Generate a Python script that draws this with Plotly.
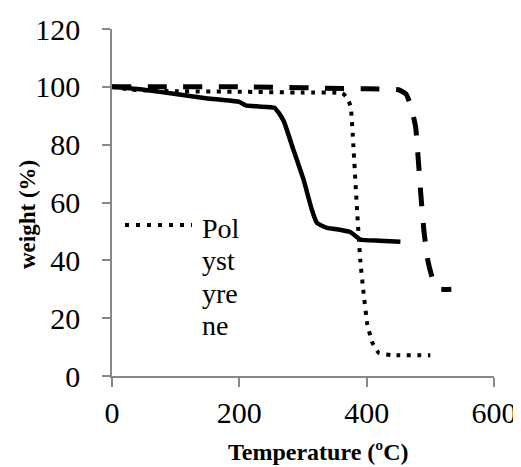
import plotly.graph_objects as go

# Solid curve
solid_t = [0, 50, 100, 150, 200, 210, 230, 255, 262, 270, 285, 301, 314, 322, 338, 360, 374, 382, 390, 420, 453]
solid_w = [100, 99, 97.5, 96, 94.8, 93.6, 93.2, 92.8, 91, 88, 78.2, 67.8, 57.4, 52.9, 51.2, 50.5, 49.8, 48.5, 47.2, 46.8, 46.4]

# Polystyrene (dotted)
ps_t = [0, 30, 100, 200, 300, 362, 370, 375, 379, 385, 390, 395, 401, 409, 419, 440, 500]
ps_w = [100, 99, 98.5, 98.3, 98, 97.8, 96, 93, 80, 57, 40, 29, 18, 11.5, 8, 7.2, 7.2]

# Dashed curve
dash_t = [0, 200, 400, 450, 462, 470, 477, 481, 485, 490, 496, 503, 510, 516, 533]
dash_w = [100, 100, 99.3, 99, 97.5, 93, 86, 75, 63, 50, 40, 34, 31, 30, 30]

legend_lines = ["Pol", "yst", "yre", "ne"]

FONT = "Liberation Serif"
AX = "#878787"

fig = go.Figure()
fig.add_trace(go.Scatter(x=solid_t, y=solid_w, mode="lines",
                         line=dict(color="black", width=4.5, shape="spline", smoothing=0.4),
                         showlegend=False))
fig.add_trace(go.Scatter(x=ps_t, y=ps_w, mode="lines", name="Polystyrene",
                         line=dict(color="black", width=4, dash="4px,6.5px", shape="spline", smoothing=0.4),
                         showlegend=False))
fig.add_trace(go.Scatter(x=dash_t, y=dash_w, mode="lines",
                         line=dict(color="black", width=5, dash="19px,16.5px", shape="spline", smoothing=0.4),
                         showlegend=False))

# manual legend (wrapped text as in the reference)
fig.add_shape(type="line", xref="paper", yref="paper",
              x0=(125 - 112) / 382, x1=(192 - 112) / 382,
              y0=(376 - 225) / 347, y1=(376 - 225) / 347,
              line=dict(color="black", width=4, dash="4px,7px"))
for i, s in enumerate(legend_lines):
    fig.add_annotation(text=s, xref="paper", yref="paper",
                       x=(200 - 112) / 382, y=(376 - (228 + 32.5 * i)) / 347,
                       xanchor="left", yanchor="middle", showarrow=False,
                       font=dict(family=FONT, size=28, color="black"))

# axis titles
fig.add_annotation(text="<b>Temperature (ºC)</b>", xref="paper", yref="paper",
                   x=(318 - 112) / 382, y=(376 - 452) / 347, xanchor="center", yanchor="middle",
                   showarrow=False, font=dict(family=FONT, size=24, color="black"))
fig.add_annotation(text="<b>weight (%)</b>", xref="paper", yref="paper",
                   x=(27 - 112) / 382, y=(376 - 215) / 347, xanchor="center", yanchor="middle",
                   textangle=-90, showarrow=False, font=dict(family=FONT, size=23, color="black"))

fig.update_layout(
    width=521, height=467,
    margin=dict(l=104, r=35, t=21, b=99, autoexpand=False),
    paper_bgcolor="white", plot_bgcolor="white",
    font=dict(family=FONT, color="black"),
    xaxis=dict(range=[0, 600], tickvals=[0, 200, 400, 600], showgrid=False, zeroline=False,
               showline=True, linecolor=AX, linewidth=1.5, ticks="outside", ticklen=9,
               tickcolor=AX, tickwidth=1.5, tickfont=dict(family=FONT, size=30, color="black"),
               ticklabelstandoff=0, automargin=False),
    yaxis=dict(range=[0, 120], tickvals=[0, 20, 40, 60, 80, 100, 120], showgrid=False, zeroline=False,
               showline=True, linecolor=AX, linewidth=1.5, ticks="outside", ticklen=8,
               tickcolor=AX, tickwidth=1.5, tickfont=dict(family=FONT, size=30, color="black"),
               ticklabelstandoff=16, automargin=False),
)

fig.write_html("out.html")
